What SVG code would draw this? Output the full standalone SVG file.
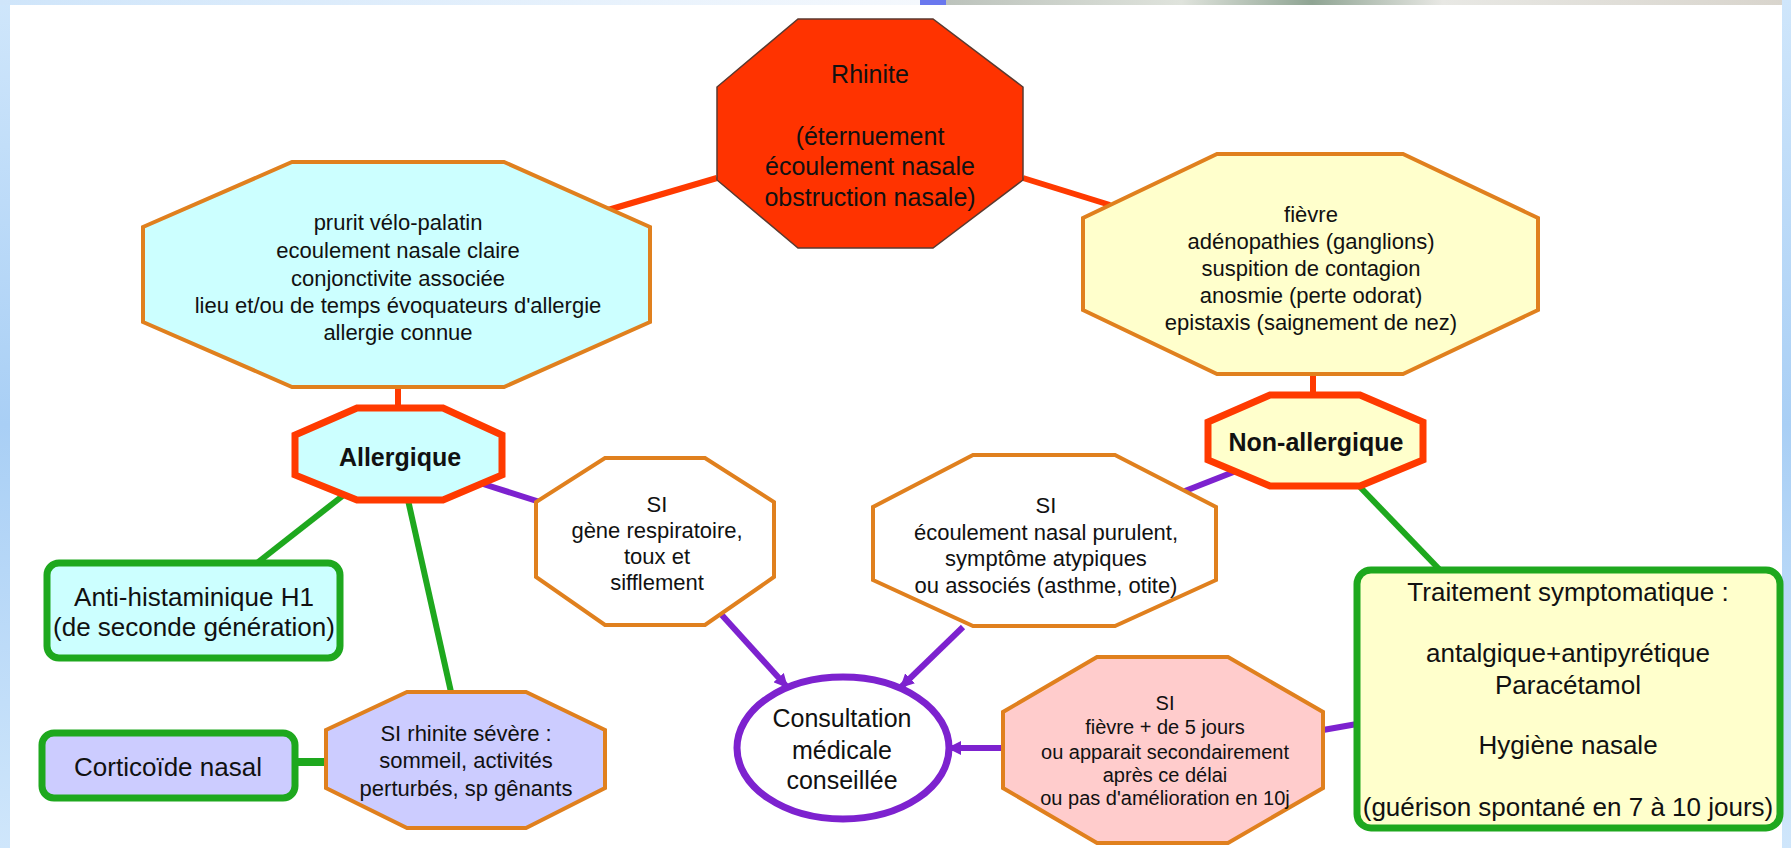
<svg xmlns="http://www.w3.org/2000/svg" width="1791" height="848" viewBox="0 0 1791 848">
<defs>
<linearGradient id="lg" x1="0" y1="0" x2="0" y2="1"><stop offset="0" stop-color="#cfe6fb"/><stop offset="0.5" stop-color="#a9cff5"/><stop offset="1" stop-color="#cfe6fb"/></linearGradient>
<linearGradient id="tg" x1="0" y1="0" x2="1" y2="0"><stop offset="0" stop-color="#cfe5fa"/><stop offset="1" stop-color="#f4f8fd"/></linearGradient>
<linearGradient id="pg" x1="0" y1="0" x2="1" y2="0"><stop offset="0" stop-color="#b8bfb8"/><stop offset="0.3" stop-color="#dfe3dc"/><stop offset="0.45" stop-color="#8fa493"/><stop offset="0.6" stop-color="#e8e8e4"/><stop offset="1" stop-color="#d8d4cc"/></linearGradient>
<marker id="arr" markerUnits="userSpaceOnUse" markerWidth="16" markerHeight="14" refX="14" refY="7" orient="auto"><path d="M0,0 L14,7 L0,14 z" fill="#7d22cf"/></marker>
<style>
text{font-family:"Liberation Sans",Arial,sans-serif;fill:#111;text-anchor:middle}
.f22{font-size:22px}.f20{font-size:20px}.f25{font-size:25px}.f26{font-size:26px}
.b{font-weight:bold;font-size:25px}
.oct{stroke:#e0801e;stroke-width:4;stroke-linejoin:miter}
.red{stroke:#ff3a00;stroke-width:7}
.gbox{stroke:#1ea81e;stroke-width:7}
.lr{stroke:#ff3a00;stroke-width:6;fill:none}
.lg{stroke:#1ea81e;stroke-width:6;fill:none}
.lp{stroke:#7d22cf;stroke-width:6;fill:none}
</style>
</defs>
<rect x="0" y="0" width="1791" height="848" fill="#ffffff"/>
<rect x="0" y="0" width="10" height="848" fill="url(#lg)"/>
<rect x="0" y="0" width="920" height="5" fill="url(#tg)"/>
<rect x="920" y="0" width="871" height="5" fill="url(#pg)"/>
<rect x="920" y="0" width="26" height="5" fill="#6a78ee"/>
<rect x="1782" y="0" width="9" height="848" fill="url(#lg)"/>

<g id="connectors">
<line class="lr" x1="608" y1="210" x2="717" y2="178"/>
<line class="lr" x1="1023" y1="178" x2="1110" y2="205"/>
<line class="lr" x1="398" y1="387" x2="398" y2="408"/>
<line class="lr" x1="1313" y1="374" x2="1313" y2="395"/>
<line class="lg" x1="345" y1="494" x2="257" y2="563"/>
<line class="lg" x1="408" y1="500" x2="451" y2="692"/>
<line class="lg" x1="295" y1="762" x2="326" y2="762" style="stroke-width:8"/>
<line class="lg" x1="1360" y1="487" x2="1440" y2="570"/>
<line class="lp" x1="480" y1="483" x2="540" y2="502"/>
<line class="lp" x1="1236" y1="471" x2="1185" y2="491"/>
<line class="lp" x1="1323" y1="730" x2="1357" y2="724"/>
<line class="lp" x1="720" y1="613" x2="788" y2="688" marker-end="url(#arr)"/>
<line class="lp" x1="963" y1="627" x2="900" y2="688" marker-end="url(#arr)"/>
<line class="lp" x1="1003" y1="748" x2="947" y2="748" marker-end="url(#arr)"/>
</g>

<g id="rhinite">
<polygon points="798,19 933,19 1023,87 1023,180 933,248 798,248 717,180 717,87" fill="#ff3300" stroke="#5a3a30" stroke-width="1.5"/>
<text class="f25" x="870" y="83">Rhinite</text>
<text class="f25" x="870" y="145">(éternuement</text>
<text class="f25" x="870" y="175">écoulement nasale</text>
<text class="f25" x="870" y="206">obstruction nasale)</text>
</g>

<g id="signes-allergiques">
<polygon class="oct" points="292,162 504,162 650,227 650,322 504,387 292,387 143,322 143,227" fill="#ccffff"/>
<text class="f22" x="398" y="230">prurit vélo-palatin</text>
<text class="f22" x="398" y="258">ecoulement nasale claire</text>
<text class="f22" x="398" y="286">conjonctivite associée</text>
<text class="f22" x="398" y="313">lieu et/ou de temps évoquateurs d'allergie</text>
<text class="f22" x="398" y="340">allergie connue</text>
</g>

<g id="signes-non-allergiques">
<polygon class="oct" points="1217,154 1403,154 1538,218 1538,310 1403,374 1217,374 1083,310 1083,218" fill="#ffffcc"/>
<text class="f22" x="1311" y="222">fièvre</text>
<text class="f22" x="1311" y="249">adénopathies (ganglions)</text>
<text class="f22" x="1311" y="276">suspition de contagion</text>
<text class="f22" x="1311" y="303">anosmie (perte odorat)</text>
<text class="f22" x="1311" y="330">epistaxis (saignement de nez)</text>
</g>

<g id="allergique">
<polygon class="red" points="357,408 443,408 502,435 502,475 443,500 357,500 295,475 295,435" fill="#ccffff"/>
<text class="b" x="400" y="466">Allergique</text>
</g>

<g id="non-allergique">
<polygon class="red" points="1270,395 1360,395 1423,422 1423,460 1360,486 1270,486 1208,460 1208,422" fill="#ffffcc"/>
<text class="b" x="1316" y="451">Non-allergique</text>
</g>

<g id="si-gene">
<polygon class="oct" points="605,458 705,458 774,502 774,577 705,625 605,625 536,577 536,502" fill="#ffffff"/>
<text class="f22" x="657" y="512">SI</text>
<text class="f22" x="657" y="538">gène respiratoire,</text>
<text class="f22" x="657" y="564">toux et</text>
<text class="f22" x="657" y="590">sifflement</text>
</g>

<g id="si-ecoulement">
<polygon class="oct" points="973,455 1115,455 1216,507 1216,580 1115,626 973,626 873,580 873,507" fill="#ffffff"/>
<text class="f22" x="1046" y="513">SI</text>
<text class="f22" x="1046" y="540">écoulement nasal purulent,</text>
<text class="f22" x="1046" y="566">symptôme atypiques</text>
<text class="f22" x="1046" y="593">ou associés (asthme, otite)</text>
</g>

<g id="antihistaminique">
<rect class="gbox" x="47" y="563" width="293" height="95" rx="12" fill="#ccffff"/>
<text class="f26" x="194" y="606">Anti-histaminique H1</text>
<text class="f26" x="194" y="636">(de seconde génération)</text>
</g>

<g id="corticoide">
<rect class="gbox" x="42" y="733" width="253" height="65" rx="12" fill="#ccccff"/>
<text class="f26" x="168" y="776">Corticoïde nasal</text>
</g>

<g id="si-rhinite-severe">
<polygon class="oct" points="407,692 526,692 605,730 605,788 526,828 407,828 326,788 326,730" fill="#ccccff"/>
<text class="f22" x="466" y="741">SI rhinite sévère :</text>
<text class="f22" x="466" y="768">sommeil, activités</text>
<text class="f22" x="466" y="796">perturbés, sp gênants</text>
</g>

<g id="consultation">
<ellipse cx="843" cy="748" rx="106" ry="71" fill="#ffffff" stroke="#7d22cf" stroke-width="7"/>
<text class="f25" x="842" y="727">Consultation</text>
<text class="f25" x="842" y="759">médicale</text>
<text class="f25" x="842" y="789">conseillée</text>
</g>

<g id="si-fievre">
<polygon class="oct" points="1097,657 1228,657 1323,712 1323,788 1228,843 1097,843 1003,788 1003,712" fill="#ffcccc"/>
<text class="f20" x="1165" y="710">SI</text>
<text class="f20" x="1165" y="734">fièvre + de 5 jours</text>
<text class="f20" x="1165" y="759">ou apparait secondairement</text>
<text class="f20" x="1165" y="782">après ce délai</text>
<text class="f20" x="1165" y="805">ou pas d'amélioration en 10j</text>
</g>

<g id="traitement">
<rect class="gbox" x="1357" y="570" width="423" height="258" rx="14" fill="#ffffcc"/>
<text class="f26" x="1568" y="601">Traitement symptomatique :</text>
<text class="f26" x="1568" y="662">antalgique+antipyrétique</text>
<text class="f26" x="1568" y="694">Paracétamol</text>
<text class="f26" x="1568" y="754">Hygiène nasale</text>
<text class="f26" x="1568" y="816">(guérison spontané en 7 à 10 jours)</text>
</g>
</svg>
